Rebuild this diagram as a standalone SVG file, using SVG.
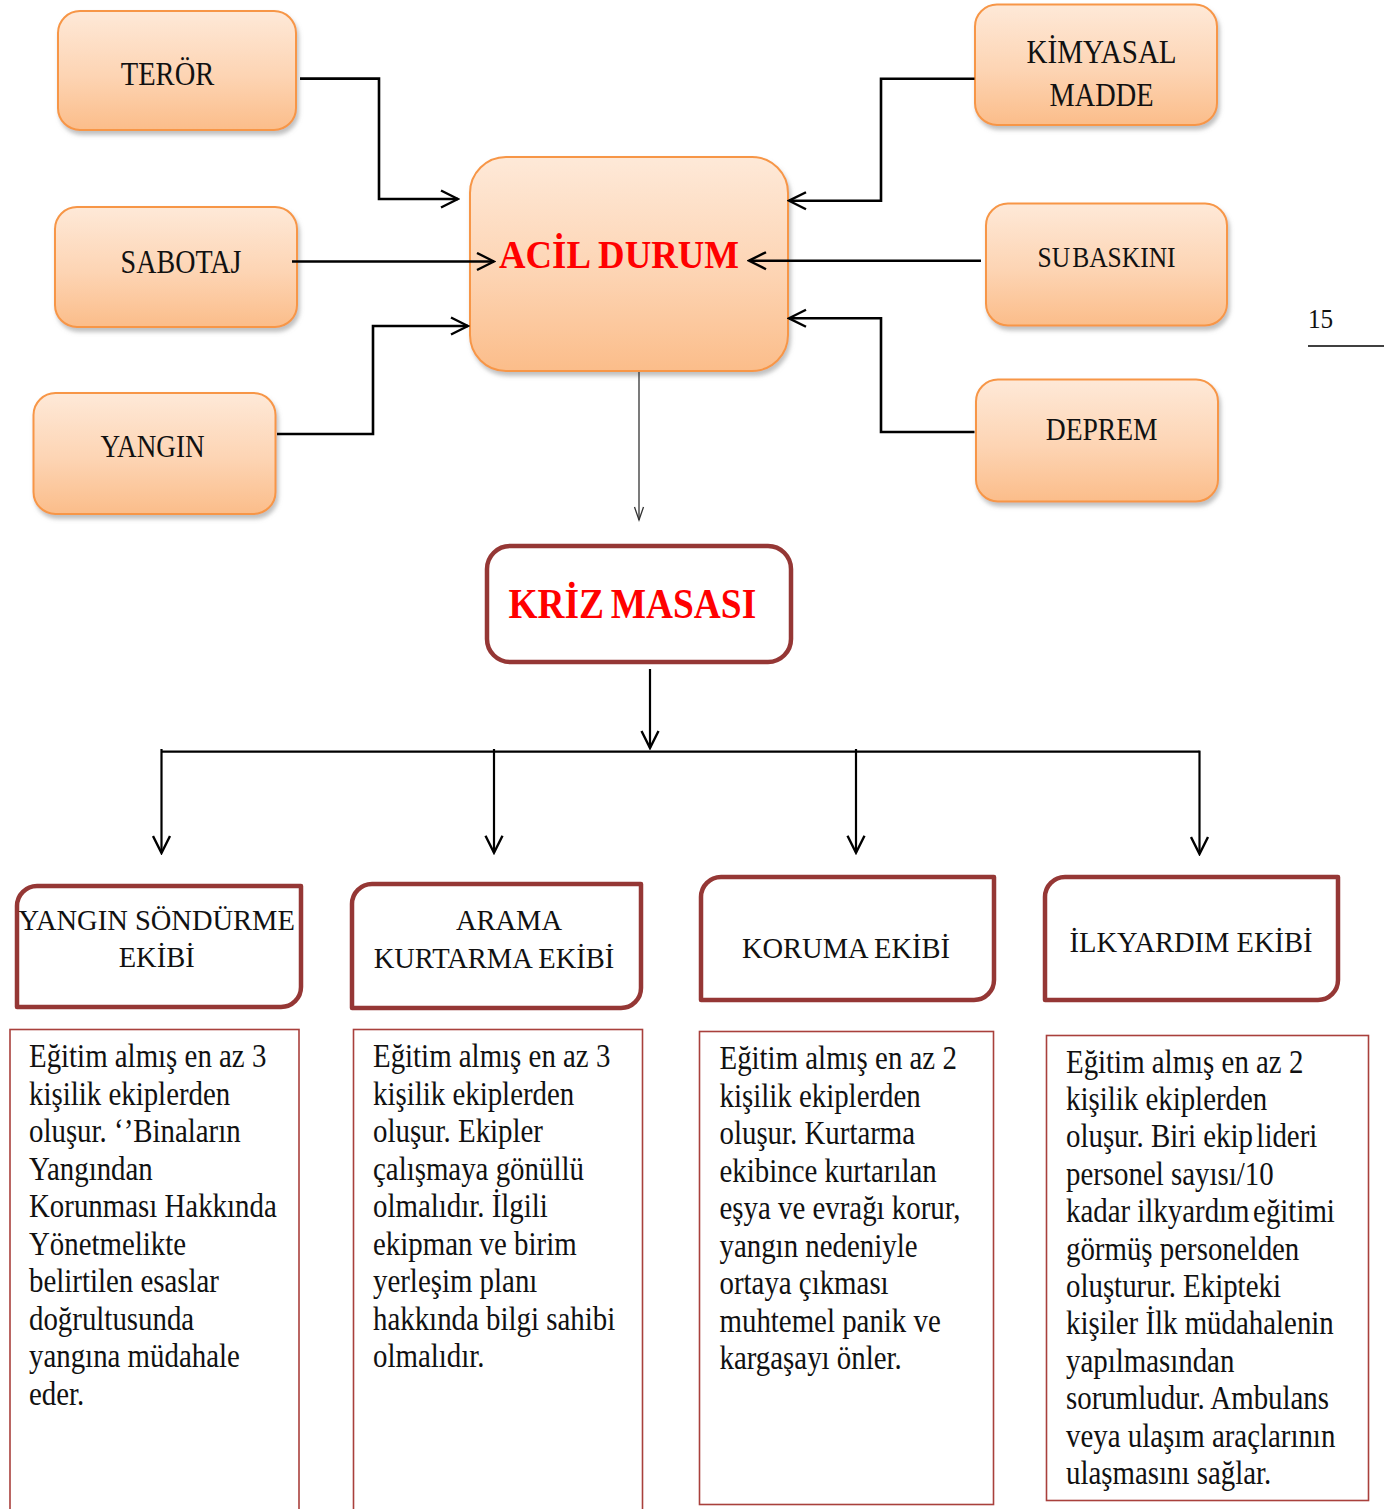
<svg xmlns="http://www.w3.org/2000/svg" width="1384" height="1509" viewBox="0 0 1384 1509">
<defs>
<style>
.ob{fill:url(#og);stroke:#f79646;stroke-width:2;filter:url(#sh)}
.lbl{font-family:"Liberation Serif","Times New Roman",serif;fill:#111;text-anchor:middle}
.big{font-family:"Liberation Serif","Times New Roman",serif;font-weight:bold;fill:#ff0000;text-anchor:middle}
.team{fill:#fff;stroke:#953735;stroke-width:4.5;stroke-linejoin:round}
.tb{fill:#fff;stroke:#a9403c;stroke-width:1.6}
.body{font-family:"Liberation Serif","Times New Roman",serif;font-size:33px;fill:#111}
.con{fill:none;stroke:#000;stroke-width:2.6}
.bus{fill:none;stroke:#000;stroke-width:2.2}
</style>
<linearGradient id="og" x1="0" y1="0" x2="0" y2="1">
<stop offset="0" stop-color="#fee9d8"/>
<stop offset="0.55" stop-color="#fdd4b3"/>
<stop offset="1" stop-color="#fbbd8a"/>
</linearGradient>
<filter id="sh" x="-10%" y="-10%" width="125%" height="130%">
<feDropShadow dx="2" dy="4" stdDeviation="2" flood-color="#8c8c8c" flood-opacity="0.55"/>
</filter>
<marker id="arr" viewBox="-19 -10 21 20" markerWidth="21" markerHeight="20" refX="0" refY="0" orient="auto" markerUnits="userSpaceOnUse">
<path d="M-17,-8.5 L0,0 L-17,8.5" fill="none" stroke="#000" stroke-width="2.4"/>
</marker>
<marker id="arrS" viewBox="-15 -6 17 12" markerWidth="17" markerHeight="12" refX="0" refY="0" orient="auto" markerUnits="userSpaceOnUse">
<path d="M-13,-4.5 L0,0 L-13,4.5" fill="none" stroke="#333" stroke-width="1.3"/>
</marker>
</defs>

<g id="teror">
<rect class="ob" x="58" y="11" width="238" height="119" rx="22"/>
<text class="lbl" font-size="33" transform="translate(167.5 84.5) scale(0.865 1)">TERÖR</text>
</g>
<g id="sabotaj">
<rect class="ob" x="55" y="207" width="242" height="120" rx="22"/>
<text class="lbl" font-size="33" transform="translate(181 272.5) scale(0.85 1)">SABOTAJ</text>
</g>
<g id="yangin">
<rect class="ob" x="33.5" y="393" width="242" height="121" rx="22"/>
<text class="lbl" font-size="32" transform="translate(152.5 457) scale(0.85 1)">YANGIN</text>
</g>
<g id="acil-durum">
<rect class="ob" x="470" y="157" width="318" height="214" rx="36"/>
<text class="big" font-size="40" transform="translate(619 268.3) scale(0.92 1)">ACİL DURUM</text>
</g>
<g id="kimyasal-madde">
<rect class="ob" x="975" y="4.5" width="242" height="120.5" rx="22"/>
<text class="lbl" font-size="33" transform="translate(1101.6 63.3) scale(0.88 1)">KİMYASAL</text>
<text class="lbl" font-size="33" transform="translate(1101.6 106) scale(0.86 1)">MADDE</text>
</g>
<g id="subaskini">
<rect class="ob" x="986" y="203.5" width="241" height="122" rx="22"/>
<text class="lbl" font-size="30" word-spacing="-5" transform="translate(1106.5 266.7) scale(0.85 1)">SU BASKINI</text>
</g>
<g id="deprem">
<rect class="ob" x="976" y="379.5" width="242" height="122" rx="22"/>
<text class="lbl" font-size="31" transform="translate(1101.7 440) scale(0.89 1)">DEPREM</text>
</g>

<g id="page-number">
<text class="lbl" font-size="28" style="text-anchor:start" transform="translate(1308 328) scale(0.9 1)">15</text>
<line x1="1308" y1="346" x2="1384" y2="346" stroke="#000" stroke-width="1.6"/>
</g>

<g id="kriz-masasi">
<rect x="487" y="546" width="304" height="116" rx="23" fill="#fff" stroke="#953735" stroke-width="4.5"/>
<text class="big" font-size="43" word-spacing="-3" transform="translate(632.3 618.3) scale(0.87 1)">KRİZ MASASI</text>
</g>

<g id="yangin-sondurme-ekibi">
<path class="team" d="M17,1007 L17,906 A20,20 0 0 1 37,886 L301,886 L301,987 A20,20 0 0 1 281,1007 Z"/>
<text class="lbl" font-size="28.5" x="156.7" y="930">YANGIN SÖNDÜRME</text>
<text class="lbl" font-size="28.5" x="156.7" y="966.7">EKİBİ</text>
</g>
<g id="arama-kurtarma-ekibi">
<path class="team" d="M352,1008 L352,904 A20,20 0 0 1 372,884 L641,884 L641,988 A20,20 0 0 1 621,1008 Z"/>
<text class="lbl" font-size="28.5" x="509" y="930">ARAMA</text>
<text class="lbl" font-size="28.5" x="494" y="968">KURTARMA EKİBİ</text>
</g>
<g id="koruma-ekibi">
<path class="team" d="M701,1000 L701,897 A20,20 0 0 1 721,877 L994,877 L994,980 A20,20 0 0 1 974,1000 Z"/>
<text class="lbl" font-size="28.5" x="846" y="958">KORUMA EKİBİ</text>
</g>
<g id="ilkyardim-ekibi">
<path class="team" d="M1045,1000 L1045,897 A20,20 0 0 1 1065,877 L1338,877 L1338,980 A20,20 0 0 1 1318,1000 Z"/>
<text class="lbl" font-size="28.5" x="1191" y="951.7">İLKYARDIM EKİBİ</text>
</g>

<g id="yangin-sondurme-aciklama">
<rect class="tb" x="10" y="1029.5" width="289" height="500"/>
<text class="body" transform="translate(29 0) scale(0.875 1)">
<tspan x="0" y="1067.3">Eğitim almış en az 3</tspan>
<tspan x="0" y="1104.8">kişilik ekiplerden</tspan>
<tspan x="0" y="1142.3">oluşur. ‘’Binaların</tspan>
<tspan x="0" y="1179.8">Yangından</tspan>
<tspan x="0" y="1217.3">Korunması Hakkında</tspan>
<tspan x="0" y="1254.8">Yönetmelikte</tspan>
<tspan x="0" y="1292.3">belirtilen esaslar</tspan>
<tspan x="0" y="1329.8">doğrultusunda</tspan>
<tspan x="0" y="1367.3">yangına müdahale</tspan>
<tspan x="0" y="1404.8">eder.</tspan>
</text>
</g>
<g id="arama-kurtarma-aciklama">
<rect class="tb" x="353.5" y="1029.5" width="289" height="500"/>
<text class="body" transform="translate(373 0) scale(0.875 1)">
<tspan x="0" y="1067.3">Eğitim almış en az 3</tspan>
<tspan x="0" y="1104.8">kişilik ekiplerden</tspan>
<tspan x="0" y="1142.3">oluşur. Ekipler</tspan>
<tspan x="0" y="1179.8">çalışmaya gönüllü</tspan>
<tspan x="0" y="1217.3">olmalıdır. İlgili</tspan>
<tspan x="0" y="1254.8">ekipman ve birim</tspan>
<tspan x="0" y="1292.3">yerleşim planı</tspan>
<tspan x="0" y="1329.8">hakkında bilgi sahibi</tspan>
<tspan x="0" y="1367.3">olmalıdır.</tspan>
</text>
</g>
<g id="koruma-aciklama">
<rect class="tb" x="699.5" y="1031.5" width="294" height="473"/>
<text class="body" transform="translate(719.5 0) scale(0.875 1)">
<tspan x="0" y="1069.3">Eğitim almış en az 2</tspan>
<tspan x="0" y="1106.8">kişilik ekiplerden</tspan>
<tspan x="0" y="1144.3">oluşur. Kurtarma</tspan>
<tspan x="0" y="1181.8">ekibince kurtarılan</tspan>
<tspan x="0" y="1219.3">eşya ve evrağı korur,</tspan>
<tspan x="0" y="1256.8">yangın nedeniyle</tspan>
<tspan x="0" y="1294.3">ortaya çıkması</tspan>
<tspan x="0" y="1331.8">muhtemel panik ve</tspan>
<tspan x="0" y="1369.3">kargaşayı önler.</tspan>
</text>
</g>
<g id="ilkyardim-aciklama">
<rect class="tb" x="1046.5" y="1035.5" width="322" height="465"/>
<text class="body" transform="translate(1066 0) scale(0.875 1)">
<tspan x="0" y="1072.7">Eğitim almış en az 2</tspan>
<tspan x="0" y="1110.1">kişilik ekiplerden</tspan>
<tspan x="0" y="1147.5">oluşur. Biri ekip<tspan font-size="16"> </tspan>lideri</tspan>
<tspan x="0" y="1184.9">personel sayısı/10</tspan>
<tspan x="0" y="1222.3">kadar ilkyardım<tspan font-size="16"> </tspan>eğitimi</tspan>
<tspan x="0" y="1259.7">görmüş personelden</tspan>
<tspan x="0" y="1297.1">oluşturur. Ekipteki</tspan>
<tspan x="0" y="1334.5">kişiler İlk müdahalenin</tspan>
<tspan x="0" y="1371.9">yapılmasından</tspan>
<tspan x="0" y="1409.3">sorumludur. Ambulans</tspan>
<tspan x="0" y="1446.7">veya ulaşım araçlarının</tspan>
<tspan x="0" y="1484.1">ulaşmasını sağlar.</tspan>
</text>
</g>

<g id="connectors">
<polyline class="con" points="300,78.6 379,78.6 379,199 458,199" marker-end="url(#arr)"/>
<line class="con" x1="292" y1="261.5" x2="494" y2="261.5" marker-end="url(#arr)"/>
<polyline class="con" points="277,434 373,434 373,326 468,326" marker-end="url(#arr)"/>
<polyline class="con" points="974.5,78.7 881,78.7 881,200.7 789,200.7" marker-end="url(#arr)"/>
<line class="con" x1="981" y1="260.7" x2="749" y2="260.7" marker-end="url(#arr)"/>
<polyline class="con" points="974.5,432 881,432 881,318.3 789,318.3" marker-end="url(#arr)"/>
<line x1="639" y1="372" x2="639" y2="520" stroke="#333" stroke-width="1.3" marker-end="url(#arrS)"/>
<line class="bus" x1="650" y1="669" x2="650" y2="748" marker-end="url(#arr)"/>
<line class="bus" x1="161" y1="751.7" x2="1199.5" y2="751.7"/>
<line class="bus" x1="161.5" y1="749" x2="161.5" y2="853" marker-end="url(#arr)"/>
<line class="bus" x1="494" y1="749" x2="494" y2="852.7" marker-end="url(#arr)"/>
<line class="bus" x1="856" y1="749" x2="856" y2="852.7" marker-end="url(#arr)"/>
<line class="bus" x1="1199.5" y1="750.6" x2="1199.5" y2="854" marker-end="url(#arr)"/>
</g>
</svg>
